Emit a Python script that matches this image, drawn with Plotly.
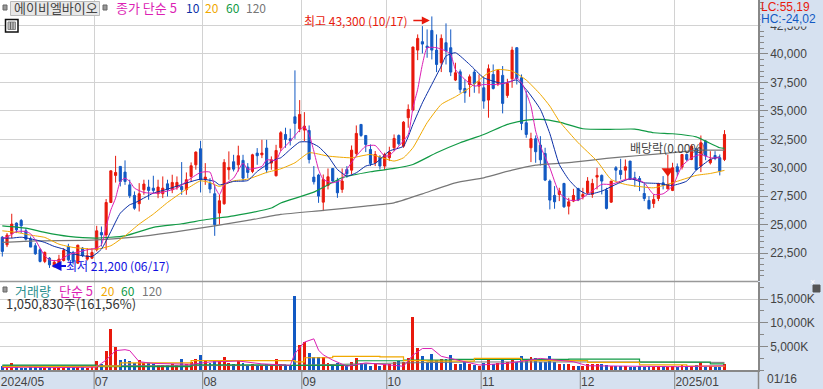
import plotly.graph_objects as go

opens = [23900,23230,24200,25140,25370,24460,23730,23150,22800,21770,
22060,21300,21560,21850,23090,22560,21620,22940,21970,22060,
22790,24310,24100,26950,29330,30120,29620,28500,27570,26840,
28070,28300,28210,27720,27720,28590,28070,28300,28360,28070,
29240,30260,31670,28950,28650,27720,26020,26840,29830,30530,
30260,30650,30060,29680,31290,31140,31730,30410,29300,31760,
32930,32550,34480,33430,33310,33280,29180,29360,26980,28450,
29940,28890,28100,29850,29790,31260,33810,32840,31610,30440,
30940,30150,30880,31760,32840,31900,34400,35070,40340,41080,
40690,42070,40340,39230,40990,40550,37710,38440,36970,37320,
38410,37180,37030,35950,38200,37410,38120,36360,37820,40550,
37910,33960,31760,32550,32000,31260,28830,27570,27660,28620,
26630,27070,28180,27450,27800,27660,29180,29330,28040,26980,
30000,29770,29790,30590,29120,29060,27740,27130,26860,27300,
28680,28150,28010,30090,30060,31170,30730,31670,30150,32340,
30440,31080,30880,30730]
highs = [24000,24260,25960,25200,25500,24700,23960,23380,22940,22650,
22150,21900,22350,22940,23320,22700,23230,23030,22940,22940,
24900,24840,27250,29770,31050,30120,30650,28950,27920,28650,
28950,28950,29300,28950,29240,28950,29390,29240,30500,29590,
30470,31440,32370,30410,29090,28500,27630,30760,31440,31140,
31940,31140,30410,31230,31730,32460,32460,31000,32020,33220,
33520,33430,38560,35950,34890,33720,30150,29470,29410,29940,
29940,29120,29940,30150,31960,33720,33810,32840,32050,31470,
31110,31320,31850,32930,32930,34100,35570,40640,41720,42450,
42160,43300,41720,41720,42690,42160,39230,38640,37760,38200,
38640,38200,37910,39080,39080,38640,38940,37820,40640,40600,
38200,36740,33080,32840,32780,31760,28970,28390,28240,28680,
27360,28150,28240,28240,29180,29030,30000,29410,28240,28830,
30150,30790,30730,30590,29650,29270,28680,27510,27660,28680,
29270,31170,30440,30380,31170,31260,32050,31760,32840,32430,
31460,31460,31170,33310]
lows = [22200,23030,23820,24260,24260,23600,23030,22350,21680,21620,
21200,21250,21300,21770,21770,21500,21560,22150,21850,21970,
22650,23090,22790,26900,28700,28360,28500,27330,26310,26160,
27630,27190,27770,27330,27330,27480,27770,28070,27630,27630,
28800,29830,27830,28500,27770,24020,25000,26750,28950,29680,
29680,28800,29090,29530,30260,30850,29530,29830,29240,31470,
31760,31960,32550,33130,32340,30380,28530,26920,26190,28100,
28770,27360,27800,29120,29410,31030,32720,31380,30150,30150,
29850,29790,30590,31470,31960,31760,33520,34980,39460,40050,
39670,39520,38410,38410,39080,38060,37620,36590,35710,36240,
36590,36530,35190,34400,36880,37180,34780,36150,37030,37320,
33310,32640,30500,30440,30200,28830,26340,26400,27070,26480,
25900,26980,27070,27220,27660,27360,28100,27660,26340,26920,
28830,28970,28970,28970,28330,27950,27070,26340,26480,27070,
28100,28100,27950,29270,29850,30590,30670,29790,29620,30670,
30290,30670,29330,30590]
closes = [22650,24080,25050,24550,24900,23730,23030,22440,21770,22560,
21470,21700,21970,22730,21910,21770,23200,22270,22270,22560,
24460,24100,26950,29730,29590,28800,28800,27540,26450,27720,
28570,28010,28010,28300,28210,28070,28710,28710,28070,28950,
30180,31380,28950,29180,28130,25000,27100,30470,30030,29880,
31060,29090,29590,31140,31060,31290,29830,30700,31520,33080,
32490,32400,33900,34690,33660,30730,28770,27510,28970,29210,
28830,27800,28830,29470,31550,33020,32840,32050,30380,31170,
30150,31170,31380,32580,32110,34010,35130,40610,41370,40870,
40550,40340,39080,41370,40260,38410,38350,36880,36590,38000,
37410,37530,35860,38700,36970,38550,35660,37410,40340,37850,
33900,32930,32550,31410,30700,28920,27160,27010,27950,26570,
27010,27570,27160,27660,28830,28620,29330,28830,26430,28830,
29790,29410,30090,28970,28970,28830,27300,26400,27220,28620,
28450,28540,30000,29650,31170,30730,31900,29850,32200,31030,
30730,30820,29710,32930]
volumes_k = [840,900,1470,700,420,420,630,560,560,490,
560,490,490,560,630,560,560,560,490,560,
1890,1260,3990,8610,4830,2100,2310,1890,1400,2100,
1470,1400,1190,1050,1050,980,1190,1050,2310,1260,
1610,2240,3150,1890,1400,1890,1890,2730,1400,1190,
1890,1400,840,1190,1050,1050,1190,1050,2310,1330,
1100,1100,15750,5250,5880,3570,2660,2660,2800,1400,
1050,1400,1050,1050,1610,2520,1400,1190,840,1190,
840,1190,1190,1610,2000,1750,2590,11130,4620,2940,
1540,3360,2100,2240,2240,3080,1260,1260,1750,1260,
1050,840,1400,2240,1260,1400,2240,1610,2520,1750,
2940,2240,2660,2450,1750,1750,2940,1750,1260,1260,
1260,910,840,840,1190,1260,1190,1260,1050,840,
840,770,770,700,700,770,700,840,700,770,
770,700,840,700,1000,840,910,1000,1750,700,
770,700,700,1250]

ma5_i = [0,1,3,5,6,7,8,9,10,12,14,18,20,21,22,23,24,25,26,27,28,30,33,37,39,42,44,45,46,47,49,51,52,55,56,58,
59,61,63,64,65,66,67,68,70,72,73,75,77,79,81,82,84,86,87,88,89,90,92,94,95,96,98,100,102,105,108,109,110,111,112,113,114,116,118,
120,122,124,127,129,132,134,136,138,140,142,144,146,148,150,152]
ma5_v = [23820,23900,24400,24400,24200,23670,22940,22270,21900,21850,22350,22790,22940,23230,24840,26300,27330,28800,29090,28800,28210,27830,27770,28210,28800,29590,29620,28360,27630,28500,29090,30410,29880,30120,30700,30650,
31470,32340,33310,33600,32930,31470,29850,28970,28680,28970,29850,31030,31900,31960,31030,31080,31900,32930,35270,36890,39080,40550,40550,40260,39960,38640,37760,37180,37320,37320,37620,37910,37470,36590,35420,33220,31900,30000,27800,
27160,27160,27660,28540,28540,28970,29030,28680,27660,27710,28390,30150,30880,31170,30880,30880]
ma10_i = [0,2,4,7,9,11,13,15,19,21,23,25,27,28,32,35,42,45,46,49,52,54,56,58,
59,61,63,65,67,69,71,73,75,77,79,82,85,87,89,91,93,94,96,99,102,106,109,111,114,116,118,120,122,124,127,130,133,136,139,142,145,147,150,152]
ma10_v = [23820,23820,23900,23670,23440,23090,22850,22440,22210,22850,24400,26010,26750,26900,27770,28120,29000,28800,28500,28800,28880,29680,30260,30760,
30880,31610,32260,32260,31850,31030,29850,29270,29560,30150,30380,31470,31900,33810,35710,37330,38940,39820,40110,39080,37910,37410,37710,36880,35130,33000,30290,28970,28100,27660,27950,28540,29030,28680,28620,28450,28830,29790,30730,30970]
ma20_i = [0,3,6,9,12,15,20,23,26,29,32,35,39,42,44,46,49,52,56,59,62,65,69,74,78,83,85,87,90,93,96,99,103,105,108,111,114,116,118,122,126,129,132,138,142,147,150,153]
ma20_v = [24460,24320,24080,23880,23290,23000,22850,23150,24020,25050,25930,26950,28120,28850,28700,28360,28850,29000,29590,29910,30440,31320,31030,30880,31170,30590,30880,31760,33960,35570,36240,37030,38350,38640,38500,37710,36450,35420,34100,32200,30590,28970,28540,28240,28680,29330,29500,29770]
ma60_i = [0,5,9,14,20,26,32,38,43,49,57,59,66,72,78,83,87,92,97,102,107,111,114,118,123,128,134,138,142,147,149,152,153]
ma60_v = [24900,24700,24320,23970,23820,24020,24760,25080,25430,25780,26460,26900,27860,29120,29650,29940,30290,31320,32200,32930,33810,34190,34250,34010,33430,33370,33400,33080,32990,32720,32340,31760,31700]
ma120_i = [0,7,19,28,36,45,52,59,68,77,83,89,96,102,108,113,121,128,135,142,148,153]
ma120_v = [23440,23580,23640,23900,24320,24900,25370,25900,26250,26630,26920,27710,28680,29120,29790,30230,30500,30820,31080,31320,31550,31550]

vma5_i = [0,5,10,20,21,22,24,26,27,28,29,32,40,44,50,55,61,62,64,66,67,68,70,73,77,85,87,89,91,93,95,101,107,114,121,124,143,153]
vma5_v = [500,600,500,600,1400,2100,4100,4300,4100,2800,1750,1400,1200,1700,1900,1300,1000,3500,5900,6600,4200,3200,2100,800,1500,800,3150,4550,4550,2900,2400,1050,1400,2450,1750,900,700,900]
vma20_i = [0,20,25,35,40,62,64,70,80,85,90,100,110,124,135,145,153]
vma20_v = [700,800,1500,1500,2000,1700,2600,2900,2800,2000,1900,2450,2000,1610,1100,800,700]
vma60_i = [0,20,40,60,75,85,95,120,135,150,153]
vma60_v = [1050,700,1100,1000,1960,2100,2240,2300,1680,1300,1300]
vma120_i = [0,60,85,100,135,153]
vma120_v = [900,950,1500,1700,1700,1610]

month_i = [0,20,43,64,82,102,123,143]
month_labels = ["2024/05","07","08","09","10","11","12","2025/01"]
price_ticks = [22500,25000,27500,30000,32500,35000,37500,40000,42500]
price_labels = ["22,500","25,000","27,500","30,000","32,500","35,000","37,500","40,000","42,500"]
vol_ticks = [5000,10000,15000]
vol_labels = ["5,000K","10,000K","15,000K"]

W,H = 823,389
PX, PY = lambda x: x/W, lambda y: 1-y/H
RED,BLUE = "#e8190c","#1259c3"
MAG,NAVY,ORG,GRN,GRY = "#dc1fb4","#0a2ea6","#f0a800","#119a45","#777777"
CJK = "Noto Sans CJK KR"
LAT = "Liberation Sans"
n = len(closes)
xs = list(range(n))
gridv = [i-0.55 if i else -0.47 for i in month_i]

fig = go.Figure()
fig.add_trace(go.Candlestick(x=xs,open=opens,high=highs,low=lows,close=closes,xaxis="x",yaxis="y",
    whiskerwidth=0,
    increasing=dict(line=dict(color=RED,width=1),fillcolor=RED),
    decreasing=dict(line=dict(color=BLUE,width=1),fillcolor=BLUE)))
for ix,v,c,w in [(ma120_i,ma120_v,GRY,1.2),(ma60_i,ma60_v,GRN,1.2),(ma20_i,ma20_v,ORG,1.0),(ma10_i,ma10_v,NAVY,1.0),(ma5_i,ma5_v,MAG,1.0)]:
    fig.add_trace(go.Scatter(x=ix,y=v,mode="lines",line=dict(color=c,width=w,shape="spline",smoothing=0.5),xaxis="x",yaxis="y"))
fig.add_trace(go.Scatter(x=[141],y=[29720],mode="markers",marker=dict(symbol="triangle-down",size=11,color=RED),xaxis="x",yaxis="y"))
fig.add_trace(go.Bar(x=xs,y=volumes_k,width=0.62,marker=dict(color=[RED if c>=o else BLUE for o,c in zip(opens,closes)],line=dict(width=0)),xaxis="x2",yaxis="y2"))
for ix,v,c,w,sh in [(vma120_i,vma120_v,GRY,1.0,"linear"),(vma60_i,vma60_v,GRN,1.2,"hv"),(vma20_i,vma20_v,ORG,1.2,"hv"),(vma5_i,vma5_v,MAG,1.0,"linear")]:
    fig.add_trace(go.Scatter(x=ix,y=v,mode="lines",line=dict(color=c,width=w,shape=sh),xaxis="x2",yaxis="y2"))

ann=[]
def T(x,y,t,c,size=12,anchor="left",family=CJK,**k):
    ann.append(dict(xref="paper",yref="paper",x=PX(x),y=PY(y),text=t,showarrow=False,xanchor=anchor,yanchor="middle",
        font=dict(family=family,size=size,color=c),borderpad=0,**k))
T(13,8,"에이비엘바이오","#444",size=13)
T(115,8,"종가 단순 5",MAG,size=13); T(185,8,"10",NAVY); T(204,8,"20",ORG); T(225,8,"60",GRN); T(245,8,"120",GRY)
T(14,290,"거래량","#2a8f8f",size=13); T(58,290,"단순 5",MAG,size=13); T(100,290,"20",ORG); T(120,290,"60",GRN); T(141,290,"120",GRY)
T(5,303,"1,050,830주(161,56%)","#333",size=13)
T(760,19,"HC:-24,02","#1259c3",size=12,family=LAT,bgcolor="#d6e1f0")
T(760,7,"LC:55,19",RED,size=12,family=LAT)
T(766,379,"01/16","#444",family=LAT)
# high, low and ex-dividend labels anchored to their candles
ann.append(dict(x=91,y=43300,xref="x",yref="y",text="",showarrow=True,arrowhead=2,arrowsize=1,arrowwidth=1.6,arrowcolor=RED,ax=-18,ay=0,yshift=-4,xshift=-2))
ann.append(dict(x=91,y=43300,xref="x",yref="y",text="최고 43,300 (10/17)",showarrow=False,xanchor="right",yshift=-4,xshift=-22,font=dict(family=CJK,size=12,color=RED)))
ann.append(dict(x=10,y=21200,xref="x",yref="y",text="",showarrow=True,arrowhead=2,arrowsize=1,arrowwidth=2,arrowcolor="#1010e0",ax=16,ay=0,xshift=2,yshift=2))
ann.append(dict(x=10,y=21200,xref="x",yref="y",text="최저 21,200 (06/17)",showarrow=False,xanchor="left",xshift=14,yshift=2,font=dict(family=CJK,size=12,color="#1010e0")))
ann.append(dict(x=141,y=31825,xref="x",yref="y",text="배당락(0.00%)",showarrow=False,xanchor="center",font=dict(family=CJK,size=12,color="#444")))
ann.append(dict(xref="paper",yref="paper",x=PX(816.5),y=PY(288.5),text="×",showarrow=False,font=dict(size=9,color="white",family=LAT)))

def R(x0,y0,x1,y1,fill,line=None,lw=1,layer="above"):
    return dict(type="rect",xref="paper",yref="paper",x0=PX(x0),x1=PX(x1),y0=PY(y0),y1=PY(y1),fillcolor=fill,line=dict(color=line or fill,width=lw),layer=layer)
shapes=[R(10.5,1.5,99.5,15.5,"#e8e8e8","#bbbbbb"),R(3,5,7,10,"#999","#666"),R(103,5,107,10,"#999","#666"),R(3,287,7,292,"#999","#666"),
        R(5.5,19.5,18,32,"#ffffff","#111",1.5),R(8,22,15.5,29.5,"#bbbbbb","#888"),R(813,285,820,292,"#555555")]
for a in (10.5,13):
    shapes.append(dict(type="line",xref="paper",yref="paper",x0=PX(a),x1=PX(a),y0=PY(22),y1=PY(29.5),line=dict(color="#666",width=1),layer="above"))
for g in gridv[1:]:
    shapes.append(dict(type="line",xref="x2",yref="paper",x0=g,x1=g,y0=PY(370),y1=PY(389),line=dict(color="#888",width=1)))
shapes.append(dict(type="line",xref="paper",yref="paper",x0=PX(758.5),x1=PX(758.5),y0=PY(370),y1=PY(389),line=dict(color="#888",width=1.5)))
shapes.append(dict(type="line",xref="paper",yref="paper",x0=0,x1=PX(758),y0=PY(281.5),y1=PY(281.5),line=dict(color="#999",width=1.5),layer="above"))

xrange=[-0.487,160.1]
fig.update_layout(width=W,height=H,margin=dict(l=0,r=0,t=0,b=0),paper_bgcolor="#d6e1f0",plot_bgcolor="#ffffff",showlegend=False,
    boxgap=0.36,annotations=ann,shapes=shapes,hovermode=False,bargap=0,
    font=dict(family=LAT,size=12,color="#444"),
    xaxis=dict(domain=[0,758/W],range=xrange,anchor="y",tickmode="array",tickvals=gridv,showticklabels=False,ticks="",showgrid=True,gridcolor="#d2d2d2",gridwidth=1.2,zeroline=False,rangeslider=dict(visible=False),showline=False),
    xaxis2=dict(domain=[0,758/W],range=xrange,anchor="y2",tickmode="array",tickvals=gridv,ticktext=month_labels,ticks="",ticklabelposition="outside right",showgrid=True,gridcolor="#d2d2d2",gridwidth=1.2,zeroline=False,showline=True,linecolor="#888",linewidth=1.5,
        tickfont=dict(family=LAT,size=12,color="#444")),
    yaxis=dict(domain=[1-281/H,1],range=[20050,44745],side="right",anchor="x",tickmode="array",tickvals=price_ticks,ticktext=price_labels,ticks="outside",ticklen=8,tickcolor="#888",showgrid=True,gridcolor="#d2d2d2",gridwidth=1.2,zeroline=False,showline=True,linecolor="#888",linewidth=1.5,
        tickfont=dict(family=LAT,size=12,color="#444"),minor=dict(tickmode="linear",dtick=500,tick0=0,ticks="outside",ticklen=4,tickcolor="#888",showgrid=False)),
    yaxis2=dict(domain=[1-370/H,1-282/H],range=[0,18640],side="right",anchor="x2",tickmode="array",tickvals=vol_ticks,ticktext=vol_labels,ticks="outside",ticklen=8,tickcolor="#888",showgrid=True,gridcolor="#d2d2d2",gridwidth=1.2,zeroline=False,showline=True,linecolor="#888",linewidth=1.5,
        tickfont=dict(family=LAT,size=12,color="#444"),minor=dict(tickmode="linear",dtick=2500,tick0=0,ticks="outside",ticklen=4,tickcolor="#888",showgrid=False)))
fig.write_html("out.html",config=dict(displayModeBar=False),post_script="document.body.style.margin='0';document.body.style.overflow='hidden';")
